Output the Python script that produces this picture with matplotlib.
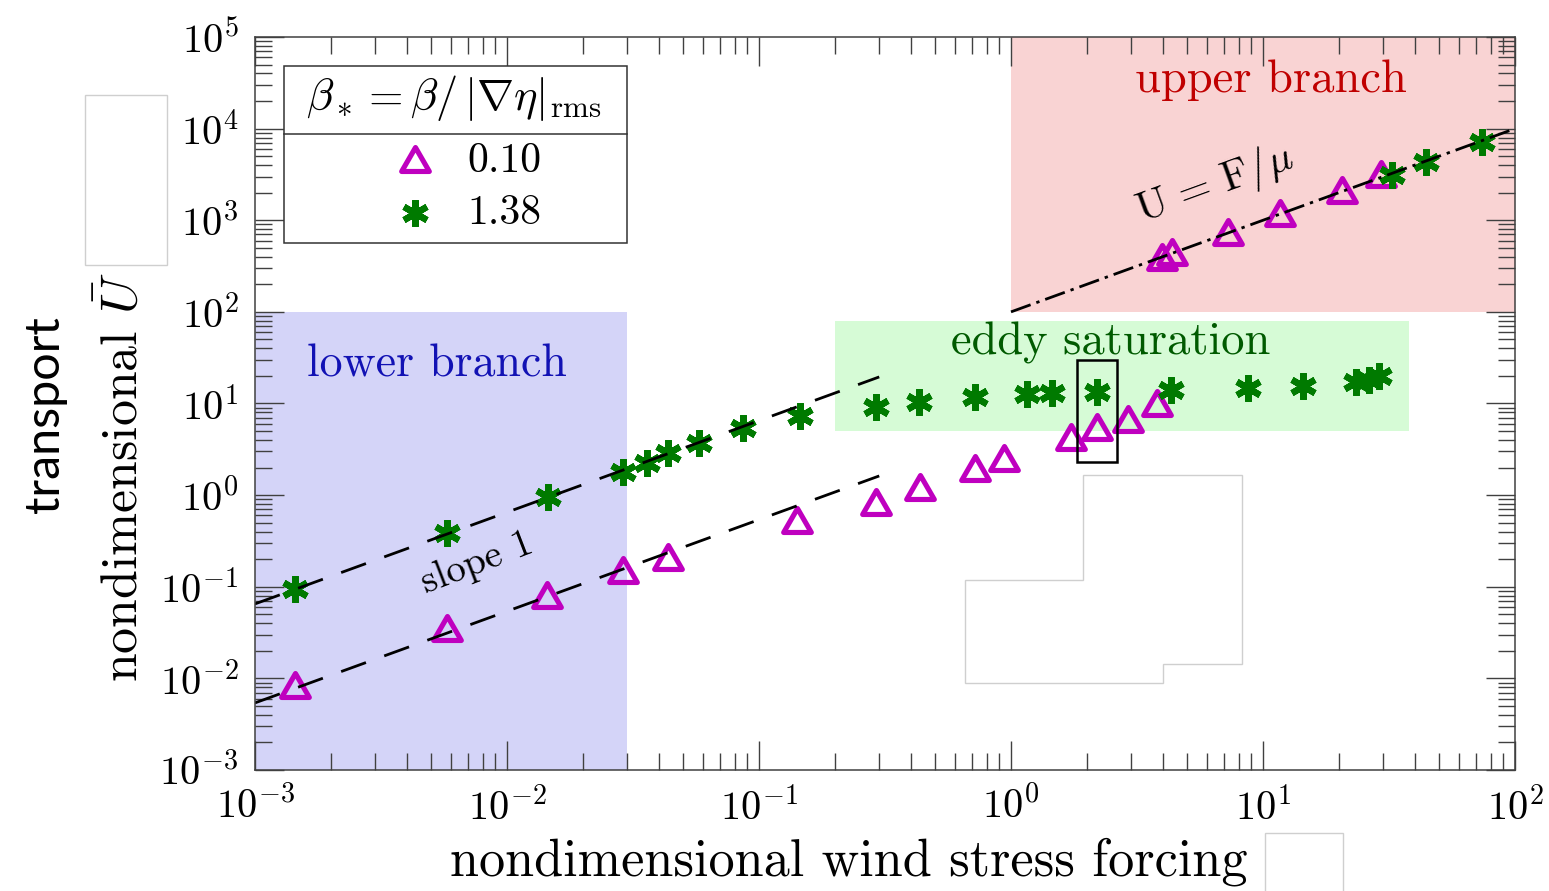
import numpy as np
import matplotlib
matplotlib.use("Agg")
import matplotlib.pyplot as plt
from matplotlib.patches import Rectangle, Polygon
from matplotlib.path import Path
from matplotlib.markers import MarkerStyle
from matplotlib.ticker import LogLocator, NullFormatter

# ---- simulation results: wind stress forcing F and transport U ----
F_beta_low = [1.44e-3, 5.76e-3, 0.0144, 0.0289, 0.0437, 0.1415, 0.290, 0.435,
              0.72, 0.94, 1.73, 2.20, 2.91, 3.79, 3.97, 4.35, 7.26, 11.7,
              20.6, 29.4]
U_beta_low = [0.0077, 0.0317, 0.073, 0.138, 0.192, 0.483, 0.764, 1.12,
              1.77, 2.28, 3.92, 5.0, 6.2, 9.1, 358, 407, 678, 1090,
              1930, 2870]

F_beta_high = [1.44e-3, 5.76e-3, 0.0145, 0.0289, 0.0358, 0.0437, 0.058,
               0.0867, 0.145, 0.290, 0.433, 0.720, 1.154, 1.448, 2.20,
               4.33, 8.68, 14.4, 23.3, 26.4, 28.8, 32.5, 44.2, 73.9]
U_beta_high = [0.0946, 0.384, 0.964, 1.81, 2.23, 2.87, 3.74, 5.37, 7.38,
               9.25, 10.5, 11.7, 12.6, 12.9, 13.5, 14.1, 14.7, 15.6, 17.3,
               18.1, 20.0, 3130, 4370, 7230]

beta_labels = ["0.10", "1.38"]

# ---- reference scalings ----
F_slope1 = [1e-3, 0.3]
slope1_coeffs = [65.0, 5.4]          # U = c F on the lower branch
F_free = [1.0, 100.0]
inv_mu = 100.0                       # U = F / mu on the upper branch

# ---- regime shading (F range, U range) ----
lower_F, lower_U = [1e-3, 0.03], [1e-3, 1e2]
eddy_F, eddy_U = [0.2, 38.0], [5.0, 80.0]
upper_F, upper_U = [1.0, 100.0], [1e2, 1e5]

# highlighted run
box_F, box_U = [1.83, 2.64], [2.3, 30.0]

# ---- style ----
plt.rcParams["mathtext.fontset"] = "cm"
plt.rcParams["font.family"] = "cmr10"
plt.rcParams["axes.formatter.use_mathtext"] = True
plt.rcParams["axes.unicode_minus"] = True

W, H = 1549, 891
fig = plt.figure(figsize=(W / 100, H / 100), dpi=100)
ax = fig.add_axes([255 / W, 1 - 770 / H, 1260 / W, 733 / H])
ax.set_xscale("log")
ax.set_yscale("log")
ax.set_xlim(1e-3, 1e2)
ax.set_ylim(1e-3, 1e5)

magenta = "#bf00bf"
green = "#007a00"

def span(Fr, Ur, color):
    ax.add_patch(Rectangle((Fr[0], Ur[0]), Fr[1] - Fr[0], Ur[1] - Ur[0],
                           facecolor=color, edgecolor="none", zorder=0.5))

span(lower_F, lower_U, "#d4d4f8")
span(eddy_F, eddy_U, "#d6fbd6")
span(upper_F, upper_U, "#f9d3d3")

tri_path = Path([(0, 1), (-0.866, -0.5), (0.866, -0.5), (0, 1)], closed=True)
tri = MarkerStyle(tri_path, joinstyle="miter")
star = MarkerStyle((6, 2, 0), capstyle="butt", joinstyle="miter")
tri_kw = dict(linestyle="none", marker=tri, ms=23, mfc="none", mec=magenta,
              mew=3.7)
star_kw = dict(linestyle="none", marker=star, ms=19, mec=green, mew=4.6)

ax.plot(F_beta_low, U_beta_low, zorder=3, **tri_kw)
ax.plot(F_beta_high, U_beta_high, zorder=3.2, **star_kw)

F1 = np.array(F_slope1)
for c in slope1_coeffs:
    ax.plot(F1, c * F1, color="black", lw=2.0, dashes=(9.5, 7), zorder=4)
F2 = np.array(F_free)
ax.plot(F2, inv_mu * F2, color="black", lw=2.0, dashes=(7.5, 2.2, 1.2, 2.2),
        zorder=4)

ax.add_patch(Rectangle((box_F[0], box_U[0]), box_F[1] - box_F[0],
                       box_U[1] - box_U[0], facecolor="none",
                       edgecolor="black", lw=1.8, zorder=5))

# regime labels
ax.text(0.00527, 19.5, "lower branch", color="#1212b4", fontsize=33,
        ha="center", va="baseline", zorder=6)
ax.text(2.49, 34.0, "eddy saturation", color="#005a00", fontsize=33.5,
        ha="center", va="baseline", zorder=6)
ax.text(10.8, 25200, "upper branch", color="#c00000", fontsize=33.5,
        ha="center", va="baseline", zorder=6)
ax.text(0.0076, 0.182, "slope 1", fontsize=28, rotation=21,
        ha="center", va="center", rotation_mode="anchor", zorder=6)
ax.text(6.45, 2432, r"$\mathrm{U}\,=\,\mathrm{F}/\mu$", fontsize=30,
        rotation=20, ha="center", va="center", rotation_mode="anchor",
        zorder=6)

# axes and ticks
for s in ax.spines.values():
    s.set_color("#404040")
    s.set_linewidth(1.1)
    s.set_zorder(7)
ax.xaxis.set_major_locator(LogLocator(base=10, numticks=20))
ax.yaxis.set_major_locator(LogLocator(base=10, numticks=20))
for a in (ax.xaxis, ax.yaxis):
    a.set_minor_locator(LogLocator(base=10, subs=np.arange(2, 10), numticks=200))
    a.set_minor_formatter(NullFormatter())
ax.tick_params(which="both", direction="in", top=True, right=True,
               color="#404040", width=1.0, labelsize=29)
ax.tick_params(which="major", length=21, pad=12)
ax.tick_params(which="minor", length=12)

# legend
lx0, lx1, ly0, ly1 = 0.0230, 0.2952, 0.719, 0.9604
ax.add_patch(Rectangle((lx0, ly0), lx1 - lx0, ly1 - ly0, transform=ax.transAxes,
                       facecolor="white", edgecolor="#333333", lw=1.1, zorder=8))
ax.plot([lx0, lx1], [0.8677, 0.8677], transform=ax.transAxes, color="#333333",
        lw=1.1, zorder=9)
ax.text(0.158, 0.9168,
        r"$\beta_* = \beta/\,|\mathbf{\nabla}\eta|_{\mathrm{rms}}$",
        transform=ax.transAxes, fontsize=32, ha="center", va="center", zorder=9)
ax.plot([0.127], [0.828], transform=ax.transAxes, zorder=9, **tri_kw)
ax.plot([0.127], [0.760], transform=ax.transAxes, zorder=9, **star_kw)
ax.text(0.1683, 0.830, beta_labels[0], transform=ax.transAxes, fontsize=30,
        ha="left", va="center", zorder=9)
ax.text(0.1683, 0.760, beta_labels[1], transform=ax.transAxes, fontsize=30,
        ha="left", va="center", zorder=9)

# axis titles
fig.text(450 / W, 1 - 862 / H, "nondimensional wind stress forcing",
         fontsize=37.6, ha="left", va="center")
fig.text(122 / W, 1 - 477 / H, r"nondimensional $\bar{U}$", fontsize=37.3,
         rotation=90, ha="center", va="center")
fig.text(45 / W, 1 - 415 / H, "transport", fontsize=35, rotation=90,
         ha="center", va="center", family="Lato", fontweight="normal",
         color="black")

# blank panels
def blank(verts):
    pts = [(x / W, 1 - y / H) for x, y in verts]
    fig.add_artist(Polygon(pts, closed=True, transform=fig.transFigure,
                           facecolor="white", edgecolor="#cfcfcf", lw=1.0,
                           zorder=20))

blank([(85, 95), (167, 95), (167, 265), (85, 265)])
blank([(1265, 833), (1343, 833), (1343, 900), (1265, 900)])
blank([(1083, 475), (1242, 475), (1242, 664), (1163, 664), (1163, 683),
       (965, 683), (965, 580), (1083, 580)])

fig.savefig("out.png", dpi=100)
